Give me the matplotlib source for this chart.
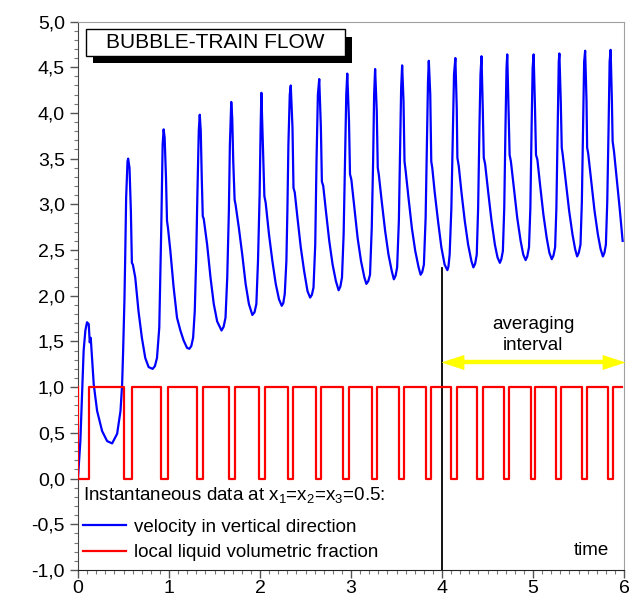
import matplotlib
matplotlib.use("Agg")
import matplotlib.pyplot as plt
from matplotlib.ticker import MultipleLocator, FuncFormatter
from matplotlib.patches import Rectangle
from matplotlib.path import Path

plt.rcParams['font.family'] = ['Liberation Sans', 'DejaVu Sans']
plt.rcParams['mathtext.fontset'] = 'custom'
plt.rcParams['mathtext.rm'] = 'Liberation Sans'

# ---------------- data ----------------
# velocity in vertical direction (time, value)
vel_t = [0.0, 0.026, 0.044, 0.062, 0.081, 0.099, 0.118, 0.129, 0.14, 0.154, 0.173, 0.21, 0.265, 0.32, 0.375,
         0.43, 0.467, 0.485, 0.496, 0.51,
         0.518, 0.529, 0.544, 0.551, 0.566, 0.581, 0.592, 0.603, 0.629, 0.665, 0.702, 0.739, 0.776, 0.82, 0.845,
         0.868, 0.893, 0.904, 0.915, 0.93, 0.941,
         0.952, 0.967, 0.978, 0.989, 1.015, 1.051, 1.088, 1.125, 1.161, 1.198, 1.224, 1.245, 1.265, 1.283, 1.298,
         1.312, 1.327, 1.338,
         1.349, 1.36, 1.371, 1.382, 1.419, 1.456, 1.492, 1.529, 1.577, 1.6, 1.621, 1.64, 1.658, 1.669, 1.684,
         1.695, 1.706, 1.721, 1.731, 1.768, 1.805, 1.842, 1.878, 1.916, 1.94, 1.96, 1.978, 1.996, 2.007, 2.015,
         2.037, 2.048, 2.062, 2.099, 2.136, 2.173, 2.209, 2.239, 2.256, 2.272, 2.29, 2.301, 2.312, 2.327, 2.338,
         2.357, 2.368, 2.382, 2.412, 2.448, 2.485, 2.522, 2.551, 2.57, 2.588, 2.607, 2.621, 2.636, 2.651,
         2.669, 2.68, 2.695, 2.724, 2.761, 2.798, 2.834, 2.864, 2.883, 2.901, 2.919, 2.934, 2.948, 2.959,
         2.978, 2.989, 3.004, 3.037, 3.073, 3.11, 3.147, 3.169, 3.19, 3.209, 3.228, 3.243, 3.254, 3.265,
         3.283, 3.294, 3.305, 3.338, 3.375, 3.412, 3.448, 3.471, 3.49, 3.507, 3.526, 3.54, 3.551, 3.562,
         3.577, 3.588, 3.599, 3.632, 3.669, 3.706, 3.743, 3.765, 3.783, 3.801, 3.82, 3.834, 3.846, 3.855,
         3.871, 3.882, 3.893, 3.919, 3.956, 3.993, 4.029, 4.059, 4.071, 4.084, 4.103, 4.121, 4.132, 4.147,
         4.162, 4.169, 4.184, 4.213, 4.25, 4.287, 4.323, 4.345, 4.364, 4.382, 4.397, 4.412, 4.423, 4.434,
         4.448, 4.459, 4.474, 4.507, 4.544, 4.581, 4.61, 4.636, 4.652, 4.669, 4.684, 4.698, 4.709, 4.717,
         4.731, 4.743, 4.757, 4.79, 4.827, 4.864, 4.893, 4.919, 4.937, 4.956, 4.971, 4.985, 4.996, 5.007,
         5.022, 5.033, 5.048, 5.077, 5.114, 5.151, 5.18, 5.206, 5.225, 5.243, 5.257, 5.272, 5.283, 5.29,
         5.305, 5.316, 5.327, 5.36, 5.397, 5.434, 5.463, 5.485, 5.503, 5.522, 5.537, 5.551, 5.562, 5.573,
         5.588, 5.595, 5.606, 5.64, 5.676, 5.713, 5.743, 5.768, 5.785, 5.801, 5.816, 5.831, 5.842, 5.853,
         5.867, 5.875, 5.89, 5.923, 5.952, 5.985]
vel_v = [0.01, 0.41, 0.92, 1.40, 1.62, 1.71, 1.69, 1.49, 1.54, 1.32, 1.03, 0.74, 0.52, 0.41, 0.385,
         0.49, 0.74, 1.03, 1.40, 1.94,
         2.38, 3.07, 3.47, 3.50, 3.40, 2.93, 2.36, 2.34, 2.20, 1.83, 1.54, 1.32, 1.22, 1.20, 1.23,
         1.32, 1.65, 2.20, 2.74, 3.65, 3.82,
         3.73, 3.29, 2.82, 2.74, 2.49, 2.09, 1.76, 1.62, 1.51, 1.43, 1.42, 1.45, 1.54, 1.83, 2.38,
         3.11, 3.80, 3.98,
         3.80, 3.29, 2.87, 2.84, 2.56, 2.20, 1.91, 1.72, 1.62, 1.66, 1.76, 2.20, 2.93, 3.65, 4.12,
         3.94, 3.47, 3.05, 3.00, 2.74, 2.45, 2.13, 1.91, 1.79, 1.82, 1.91, 2.38, 3.11, 3.84, 4.22,
         3.47, 3.09, 3.02, 2.67, 2.38, 2.13, 1.96, 1.89, 1.92, 2.02, 2.38, 2.93, 3.65, 4.20, 4.30,
         3.84, 3.18, 3.13, 2.85, 2.53, 2.27, 2.05, 1.98, 2.01, 2.09, 2.56, 3.47, 4.20, 4.37,
         3.84, 3.25, 3.20, 2.93, 2.60, 2.34, 2.16, 2.06, 2.10, 2.20, 2.67, 3.47, 4.20, 4.43,
         3.91, 3.33, 3.27, 2.96, 2.63, 2.38, 2.20, 2.13, 2.16, 2.23, 2.74, 3.47, 4.20, 4.48,
         4.02, 3.40, 3.33, 3.03, 2.71, 2.45, 2.27, 2.18, 2.22, 2.31, 2.82, 3.65, 4.27, 4.52,
         4.13, 3.47, 3.38, 3.07, 2.74, 2.49, 2.31, 2.23, 2.26, 2.34, 2.85, 3.65, 4.34, 4.57,
         4.20, 3.47, 3.40, 3.14, 2.82, 2.53, 2.34, 2.28, 2.32, 2.45, 2.96, 3.87, 4.42, 4.60,
         4.05, 3.51, 3.42, 3.14, 2.82, 2.56, 2.38, 2.31, 2.35, 2.45, 2.96, 3.87, 4.42, 4.62,
         4.05, 3.51, 3.44, 3.14, 2.82, 2.56, 2.42, 2.36, 2.40, 2.49, 2.96, 3.87, 4.49, 4.64,
         4.05, 3.54, 3.47, 3.18, 2.85, 2.60, 2.45, 2.39, 2.43, 2.53, 2.96, 3.87, 4.49, 4.64,
         4.05, 3.54, 3.49, 3.22, 2.89, 2.63, 2.47, 2.40, 2.44, 2.53, 2.96, 3.87, 4.56, 4.65,
         4.13, 3.62, 3.54, 3.25, 2.93, 2.67, 2.51, 2.43, 2.47, 2.56, 3.03, 3.87, 4.56, 4.68,
         4.13, 3.62, 3.56, 3.25, 2.93, 2.67, 2.51, 2.43, 2.47, 2.56, 3.03, 3.87, 4.56, 4.69,
         4.13, 3.69, 3.58, 3.25, 2.96, 2.60]

# local liquid volumetric fraction: 0 until first rise, then 1 with dips to 0 (bubble passages)
liq_first_rise = 0.118
liq_dip_start = [0.51, 0.91, 1.307, 1.661, 1.987, 2.309, 2.615, 2.917, 3.231, 3.526, 3.828,
                 4.10, 4.39, 4.68, 4.975, 5.257, 5.54, 5.826]
liq_dip_end = [0.598, 0.985, 1.374, 1.720, 2.053, 2.368, 2.674, 2.976, 3.290, 3.585, 3.879,
               4.165, 4.45, 4.74, 5.025, 5.31, 5.595, 5.88]
liq_end_time = 5.975

avg_start = 4.0
avg_end = 6.0
avg_line_top = 2.3
arrow_level = 1.27

# ---------------- figure ----------------
W, H = 640, 599
fig = plt.figure(figsize=(W / 100, H / 100), dpi=100)
ax = fig.add_axes([78 / W, 29 / H, 546 / W, 548.5 / H])

ax.plot(vel_t, vel_v, color='#0000ff', lw=1.6, label='velocity in vertical direction', zorder=3)

rx = [0.0, 0.0, liq_first_rise, liq_first_rise]
ry = [1.0, 0.0, 0.0, 1.0]
for d, u in zip(liq_dip_start, liq_dip_end):
    rx += [d, d, u, u]
    ry += [1.0, 0.0, 0.0, 1.0]
rx.append(liq_end_time)
ry.append(1.0)
ax.plot(rx, ry, color='#ff0000', lw=1.6, label='local liquid volumetric fraction', zorder=4)

# averaging interval marker
ax.plot([avg_start, avg_start], [-1.0, avg_line_top], color='black', lw=1.3, zorder=2)
yellow = '#ffff00'
ax.plot([avg_start + 0.08, avg_end - 0.08], [arrow_level, arrow_level], color=yellow, lw=3.2,
        solid_capstyle='butt', clip_on=False, zorder=5)
left_head = Path([(0, 0), (2, 0.65), (2, -0.65), (0, 0)], [Path.MOVETO, Path.LINETO, Path.LINETO, Path.CLOSEPOLY])
right_head = Path([(0, 0), (-2, 0.65), (-2, -0.65), (0, 0)], [Path.MOVETO, Path.LINETO, Path.LINETO, Path.CLOSEPOLY])
ax.plot([avg_start], [arrow_level], marker=left_head, ms=31, color=yellow, mec=yellow, mew=0.5,
        clip_on=False, zorder=6)
ax.plot([avg_end], [arrow_level], marker=right_head, ms=31, color=yellow, mec=yellow, mew=0.5,
        clip_on=False, zorder=6)
ax.text(5.0, 1.57, 'averaging\ninterval', ha='center', va='center', fontsize=13.5, linespacing=1.25)
ax.text(5.83, -0.79, 'time', ha='right', va='center', fontsize=13.5)

ax.set_xlim(0, 6)
ax.set_ylim(-1, 5)
ax.xaxis.set_major_locator(MultipleLocator(1))
ax.xaxis.set_minor_locator(MultipleLocator(0.1))
ax.yaxis.set_major_locator(MultipleLocator(0.5))
ax.yaxis.set_minor_locator(MultipleLocator(0.1))
ax.yaxis.set_major_formatter(FuncFormatter(lambda v, p: f"{v:.1f}".replace('.', ',')))
ax.xaxis.set_major_formatter(FuncFormatter(lambda v, p: f"{v:.0f}"))
ax.tick_params(which='major', direction='out', length=5.5, width=1, color='#555555', labelsize=14, labelcolor='black')
ax.tick_params(axis='y', which='major', pad=4)
ax.tick_params(axis='x', which='major', pad=2)
ax.tick_params(which='minor', direction='out', length=3, width=0.8, color='#777777')
ax.spines['left'].set_color('#444444')
ax.spines['bottom'].set_color('#222222')
ax.spines['top'].set_color('#a0a0a0')
ax.spines['right'].set_color('#a0a0a0')

leg = ax.legend(loc='lower left', bbox_to_anchor=(-0.008, -0.001), frameon=False, fontsize=13.5,
                title='Instantaneous data at x$_\\mathregular{1}$=x$_\\mathregular{2}$=x$_\\mathregular{3}$=0.5:',
                title_fontsize=13.5, alignment='left', handlelength=2.3, handletextpad=0.4,
                labelspacing=0.45, borderaxespad=0.3, borderpad=0.2)
leg._legend_box.sep = 9

# title box with shadow
fig.add_artist(Rectangle((93.3 / W, 1 - 63.3 / H), 259 / W, 26.6 / H, transform=fig.transFigure,
                         facecolor='black', edgecolor='none', zorder=5))
fig.add_artist(Rectangle((86 / W, 1 - 55.7 / H), 259 / W, 26.4 / H, transform=fig.transFigure,
                         facecolor='white', edgecolor='black', lw=1, zorder=6))
fig.text(215.5 / W, 1 - 42.5 / H, 'BUBBLE-TRAIN FLOW', ha='center', va='center', fontsize=15, zorder=7)

fig.savefig('out.png', dpi=100)
